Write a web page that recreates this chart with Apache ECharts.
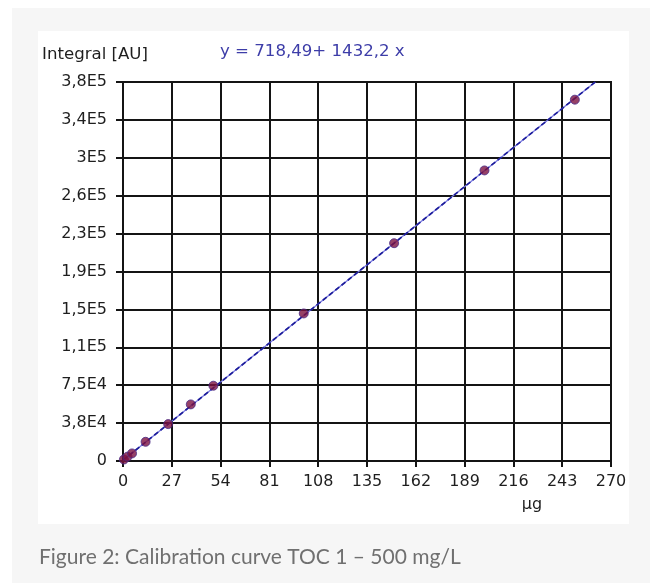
<!DOCTYPE html>
<html>
<head>
<meta charset="utf-8">
<script src="https://cdn.jsdelivr.net/npm/echarts@6/dist/echarts.min.js"></script>
<style>
html,body{margin:0;padding:0;background:#fff;}
#c{width:655px;height:583px;}
</style>
</head>
<body>
<div id="c"></div>
<script>
// Calibration standards (µg) and measured integrals (AU)
const xValues = [0.5, 2.5, 5, 12.5, 25, 37.5, 50, 100, 150, 200, 250];
const yValues = [1500, 4300, 7500, 19000, 36500, 56000, 74500, 146000, 215500, 287500, 357500];
// Regression line y = 718,49 + 1432,2 x (drawn across plot)
const fitX = [0, 261.3];
const fitY = [718.49, 375000];
// Tick labels as printed
const yTickLabels = ['0', '3,8E4', '7,5E4', '1,1E5', '1,5E5', '1,9E5', '2,3E5', '2,6E5', '3E5', '3,4E5', '3,8E5'];
const xTickLabels = ['0', '27', '54', '81', '108', '135', '162', '189', '216', '243', '270'];

const pts = xValues.map((x, i) => [x, yValues[i]]);
const fit = fitX.map((x, i) => [x, fitY[i]]);
const font = 'DejaVu Sans';
const ink = '#141414';

const chart = echarts.init(document.getElementById('c'), null, {renderer: 'canvas'});
chart.setOption({
  animation: false,
  backgroundColor: '#ffffff',
  graphic: [
    {type: 'rect', z: -10, shape: {x: 12, y: 8, width: 638, height: 590}, style: {fill: '#f6f6f6'}},
    {type: 'rect', z: -9, shape: {x: 38, y: 31, width: 591, height: 493}, style: {fill: '#ffffff'}},
    {type: 'text', x: 42, y: 55, style: {text: 'Integral [AU]', font: '16.6px "DejaVu Sans"', fill: '#1e1e1e', verticalAlign: 'middle'}},
    {type: 'text', x: 220, y: 51.5, style: {text: 'y = 718,49+ 1432,2 x', font: '16.6px "DejaVu Sans"', fill: '#3d3da8', verticalAlign: 'middle'}},
    {type: 'text', x: 532, y: 505, style: {text: 'µg', font: '16px "DejaVu Sans"', fill: '#1e1e1e', align: 'center', verticalAlign: 'middle'}},
    {type: 'text', x: 39, y: 557.5, style: {text: 'Figure 2: Calibration curve TOC 1 – 500 mg/L', font: '21px Lato', fill: '#707070', verticalAlign: 'middle'}}
  ],
  grid: {left: 123, right: 44, top: 82, bottom: 122, show: true, borderColor: ink, borderWidth: 2, backgroundColor: 'transparent'},
  xAxis: {
    type: 'value', min: 0, max: 270, interval: 27,
    axisLine: {show: true, onZero: false, lineStyle: {color: ink, width: 2}},
    axisTick: {show: true, length: 6, lineStyle: {color: ink, width: 2}},
    splitLine: {show: true, lineStyle: {color: ink, width: 2}},
    axisLabel: {color: '#1e1e1e', fontFamily: font, fontSize: 16, margin: 13,
      formatter: v => xTickLabels[Math.round(v / 27)]}
  },
  yAxis: {
    type: 'value', min: 0, max: 375000, interval: 37500,
    axisLine: {show: true, onZero: false, lineStyle: {color: ink, width: 2}},
    axisTick: {show: true, length: 7, lineStyle: {color: ink, width: 2}},
    splitLine: {show: true, lineStyle: {color: ink, width: 2}},
    axisLabel: {color: '#1e1e1e', fontFamily: font, fontSize: 16, margin: 16,
      formatter: v => yTickLabels[Math.round(v / 37500)]}
  },
  series: [
    {type: 'line', data: fit, showSymbol: false, symbol: 'none', z: 3,
      lineStyle: {color: '#7878e0', width: 1.3}},
    {type: 'line', data: fit, showSymbol: false, symbol: 'none', z: 4,
      lineStyle: {color: '#1c1c9a', width: 1.7, type: [5, 3]}},
    {type: 'scatter', data: pts, symbol: 'circle', symbolSize: 9, z: 5,
      itemStyle: {color: '#7c1240', borderColor: '#4a2a86', borderWidth: 1}}
  ]
});
</script>
</body>
</html>
